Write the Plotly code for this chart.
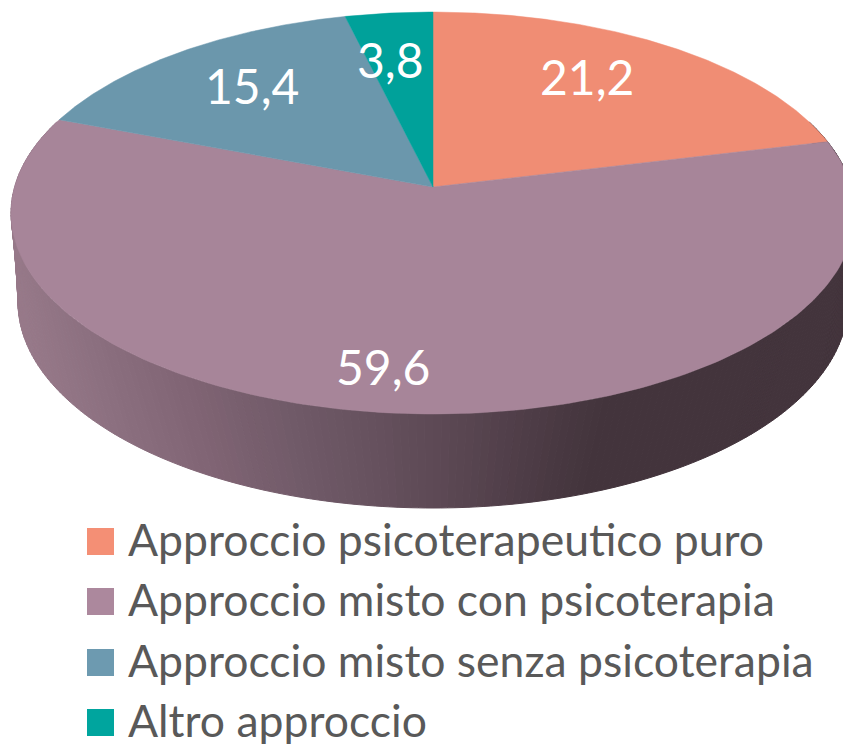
"""
Torta 3D degli approcci terapeutici, disegnata con poligoni Plotly.
"""

import numpy as np
import plotly.graph_objects as go

categories = [
    "Approccio psicoterapeutico puro",
    "Approccio misto con psicoterapia",
    "Approccio misto senza psicoterapia",
    "Altro approccio",
]
values = [21.2, 59.6, 15.4, 3.8]

slice_colors = ["#F08D74", "#A78599", "#6B97AC", "#00A19A"]
legend_colors = ["#F48F75", "#AC889D", "#6D9AB0", "#00A59E"]
TEXT_GREY = "#595959"

# Geometria del disco (pixel della pagina)
CX, APEX_Y = 433, 187
RADIUS, TILT, DEPTH = 418.4, 0.1294, 197.6
LOWER_RX, LOWER_RY, LOWER_CY = 415, 206, 302

# Sfumatura del bordo laterale
wall_x = [11, 100, 200, 300, 430, 560, 600, 843]
wall_rgb = [
    (152, 122, 138),
    (140, 112, 128),
    (128, 100, 116),
    (112, 90, 104),
    (94, 74, 86),
    (72, 56, 65),
    (67, 52, 60),
    (67, 52, 60),
]


def top_rim(theta):
    """Punti del bordo superiore, theta in radianti da ore 12 in senso orario."""
    u, v = np.sin(theta), np.cos(theta)
    den = 1 + TILT * v
    return CX + RADIUS * u / den, APEX_Y - DEPTH * v / den


def lower_rim(theta):
    """Punti del bordo inferiore del disco."""
    return CX + LOWER_RX * np.sin(theta), LOWER_CY - LOWER_RY * np.cos(theta)


fig = go.Figure()

# Bordo laterale: strisce verticali con colore variabile
edges = np.radians(np.linspace(70, 290, 221))
for a, b in zip(edges[:-1], edges[1:]):
    tx, ty = top_rim(np.array([a, b]))
    lx, ly = lower_rim(np.array([b, a]))
    xs = np.concatenate([tx, lx])
    ys = np.concatenate([ty, ly])
    rgb = [np.interp(xs.mean(), wall_x, [c[i] for c in wall_rgb]) for i in range(3)]
    color = f"rgb({rgb[0]:.0f},{rgb[1]:.0f},{rgb[2]:.0f})"
    fig.add_trace(go.Scatter(
        x=np.append(xs, xs[0]), y=np.append(ys, ys[0]),
        mode="lines", fill="toself", fillcolor=color,
        line=dict(color=color, width=1), hoverinfo="skip", showlegend=False,
    ))

# Faccia superiore: una fetta per categoria
bounds = np.radians(np.cumsum([0] + values) / sum(values) * 360)
for i, name in enumerate(categories):
    theta = np.linspace(bounds[i], bounds[i + 1], 200)
    rx, ry = top_rim(theta)
    fig.add_trace(go.Scatter(
        x=np.concatenate([[CX], rx, [CX]]), y=np.concatenate([[APEX_Y], ry, [APEX_Y]]),
        mode="lines", fill="toself", fillcolor=slice_colors[i],
        line=dict(color=slice_colors[i], width=0.5),
        name=name, text=f"{values[i]}", hoverinfo="name+text", showlegend=False,
    ))

# Etichette dei valori
label_pos = [(587, 76), (383, 366), (252, 85), (390, 59)]
annotations = []
for v, (lx, ly) in zip(values, label_pos):
    annotations.append(dict(
        x=lx, y=ly, xref="x", yref="y", text=str(v).replace(".", ","), showarrow=False,
        font=dict(family="Lato", size=48, color="white"),
    ))

# Legenda manuale in basso
legend_y = [541.5, 601.5, 662.5, 722.5]
shapes = []
for name, col, ly in zip(categories, legend_colors, legend_y):
    shapes.append(dict(
        type="rect", xref="x", yref="y", x0=87, x1=114, y0=ly - 13.5, y1=ly + 13.5,
        fillcolor=col, line=dict(width=0),
    ))
    annotations.append(dict(
        x=126, y=ly - 3, xref="x", yref="y", text=name, showarrow=False, xanchor="left",
        font=dict(family="Lato", size=44.5, color=TEXT_GREY),
    ))

fig.update_layout(
    width=843, height=744,
    margin=dict(l=0, r=0, t=0, b=0),
    paper_bgcolor="white", plot_bgcolor="white",
    xaxis=dict(range=[0, 843], visible=False, fixedrange=True),
    yaxis=dict(range=[744, 0], visible=False, fixedrange=True),
    annotations=annotations, shapes=shapes, showlegend=False,
)

# La pagina ha un margine di default: lo togliamo per restare a filo finestra
fig.write_html(
    "out.html",
    config={"displayModeBar": False},
    post_script="document.body.style.margin='0';",
)
